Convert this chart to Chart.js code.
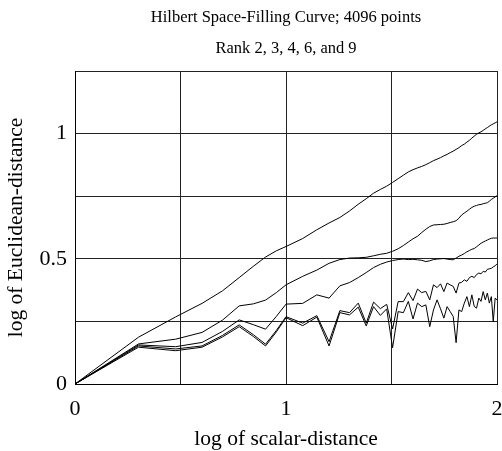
<!DOCTYPE html>
<html>
<head>
<meta charset="utf-8">
<script src="https://cdn.jsdelivr.net/npm/chart.js@4"></script>
<style>
  html, body { margin: 0; padding: 0; background: #fff; }
  #wrap { width: 502px; height: 451px; }
</style>
</head>
<body>
<div id="wrap"><canvas id="chart"></canvas></div>
<script>
// scalar distances along the curve (x axis is log10 of these)
const distances = [1, 2, 3, 4, 5, 6, 7, 8, 9, 10,
  12, 14, 16, 18, 20, 22, 24, 26, 28, 30,
  32, 34, 36, 38, 40, 42, 44, 46, 48, 50,
  52, 54, 56, 58, 60, 62, 64, 66, 68, 70,
  72, 74, 76, 78, 80, 82, 84, 86, 88, 90,
  92, 94, 96, 98, 100];

// log of mean Euclidean distance
const rank2 = [0, 0.187, 0.268, 0.322, 0.372, 0.425, 0.47, 0.507, 0.532, 0.549,
  0.581, 0.616, 0.643, 0.665, 0.691, 0.718, 0.74, 0.762, 0.777, 0.79,
  0.805, 0.82, 0.834, 0.847, 0.856, 0.863, 0.869, 0.876, 0.884, 0.892,
  0.898, 0.904, 0.911, 0.917, 0.924, 0.93, 0.937, 0.944, 0.952, 0.958,
  0.966, 0.973, 0.982, 0.99, 0.997, 1.003, 1.007, 1.013, 1.019, 1.024,
  1.03, 1.035, 1.039, 1.043, 1.047];
const rank3 = [0, 0.16, 0.179, 0.206, 0.255, 0.312, 0.32, 0.335, 0.365, 0.396,
  0.43, 0.455, 0.482, 0.497, 0.503, 0.504, 0.506, 0.512, 0.518, 0.522,
  0.53, 0.54, 0.553, 0.567, 0.58, 0.59, 0.605, 0.618, 0.629, 0.635,
  0.636, 0.637, 0.638, 0.641, 0.645, 0.648, 0.652, 0.662, 0.675, 0.683,
  0.69, 0.698, 0.705, 0.71, 0.713, 0.716, 0.717, 0.72, 0.722, 0.724,
  0.73, 0.737, 0.742, 0.747, 0.752];
const rank4 = [0, 0.156, 0.149, 0.166, 0.21, 0.256, 0.237, 0.219, 0.27, 0.319,
  0.322, 0.356, 0.343, 0.392, 0.405, 0.425, 0.445, 0.465, 0.478, 0.487,
  0.493, 0.497, 0.499, 0.497, 0.498, 0.496, 0.494, 0.489, 0.492, 0.497,
  0.499, 0.5, 0.501, 0.499, 0.497, 0.496, 0.503, 0.51, 0.515, 0.521,
  0.528, 0.533, 0.538, 0.541, 0.548, 0.555, 0.562, 0.567, 0.571, 0.575,
  0.579, 0.582, 0.583, 0.583, 0.583];
const rank6 = [0, 0.152, 0.14, 0.152, 0.194, 0.236, 0.197, 0.159, 0.214, 0.269,
  0.243, 0.273, 0.169, 0.293, 0.285, 0.323, 0.243, 0.327, 0.301, 0.318,
  0.22, 0.329, 0.329, 0.365, 0.333, 0.379, 0.365, 0.37, 0.336, 0.396,
  0.385, 0.4, 0.369, 0.403, 0.396, 0.39, 0.363, 0.403, 0.406, 0.416,
  0.41, 0.425, 0.43, 0.425, 0.437, 0.443, 0.44, 0.45, 0.447, 0.458,
  0.46, 0.462, 0.468, 0.472, 0.48];
const rank9 = [0, 0.147, 0.133, 0.147, 0.188, 0.229, 0.19, 0.152, 0.208, 0.265,
  0.233, 0.267, 0.152, 0.285, 0.276, 0.307, 0.232, 0.309, 0.274, 0.3,
  0.145, 0.289, 0.285, 0.33, 0.26, 0.323, 0.309, 0.316, 0.229, 0.296,
  0.336, 0.3, 0.263, 0.309, 0.289, 0.27, 0.165, 0.296, 0.289, 0.323,
  0.349, 0.309, 0.356, 0.31, 0.303, 0.343, 0.33, 0.369, 0.336, 0.363,
  0.323, 0.349, 0.249, 0.343, 0.336];

const titleLines = ['Hilbert Space-Filling Curve; 4096 points', 'Rank 2, 3, 4, 6, and 9'];
const serif = "'Liberation Serif', 'Times New Roman', serif";

const toPoints = vals => distances.map((d, i) => ({ x: Math.log10(d), y: vals[i] }));

const series = [rank2, rank3, rank4, rank6, rank9].map(vals => ({
  data: toPoints(vals),
  borderColor: '#000',
  borderWidth: 1,
  pointRadius: 0,
  tension: 0,
  fill: false
}));

// titles centred over the plot box, not the canvas
const titlePlugin = {
  id: 'plotTitle',
  afterDraw(chart) {
    const { ctx, chartArea } = chart;
    const cx = (chartArea.left + chartArea.right) / 2;
    ctx.save();
    ctx.fillStyle = '#000';
    ctx.font = '16.5px ' + serif;
    ctx.textAlign = 'center';
    ctx.textBaseline = 'middle';
    ctx.fillText(titleLines[0], cx, 18);
    ctx.fillText(titleLines[1], cx, 49);
    ctx.restore();
  }
};

new Chart(document.getElementById('chart'), {
  type: 'line',
  data: { datasets: series },
  plugins: [titlePlugin],
  options: {
    responsive: true,
    maintainAspectRatio: false,
    animation: false,
    layout: { padding: { top: 71, right: 5, left: 0, bottom: 0 } },
    plugins: { legend: { display: false }, tooltip: { enabled: false } },
    scales: {
      x: {
        type: 'linear',
        min: 0,
        max: 2,
        border: { color: '#000', width: 1 },
        grid: { color: '#222', drawTicks: false },
        ticks: {
          stepSize: 0.5,
          padding: 12,
          color: '#000',
          font: { family: serif, size: 22 },
          maxRotation: 0,
          callback: v => (v % 1 === 0 ? String(v) : '')
        },
        title: {
          display: true,
          text: 'log of scalar-distance',
          color: '#000',
          font: { family: serif, size: 21.5 },
          padding: { top: 4, bottom: -1 }
        },
        afterFit: s => {
          s.height = 451 - 384;
          s.paddingLeft = 0;
          s.paddingRight = 0;
        }
      },
      y: {
        type: 'linear',
        min: 0,
        max: 1.25,
        border: { color: '#000', width: 1 },
        grid: { color: '#222', drawTicks: false },
        ticks: {
          stepSize: 0.25,
          padding: 8,
          color: '#000',
          font: { family: serif, size: 22 },
          callback: v => (v === 0 || v === 0.5 || v === 1 ? String(v) : '')
        },
        title: {
          display: true,
          text: 'log of Euclidean-distance',
          color: '#000',
          font: { family: serif, size: 21.5 },
          padding: { top: 3, bottom: 2 }
        },
        afterFit: s => {
          s.width = 75;
          s.paddingTop = 0;
          s.paddingBottom = 0;
        }
      }
    }
  }
});
</script>
</body>
</html>
